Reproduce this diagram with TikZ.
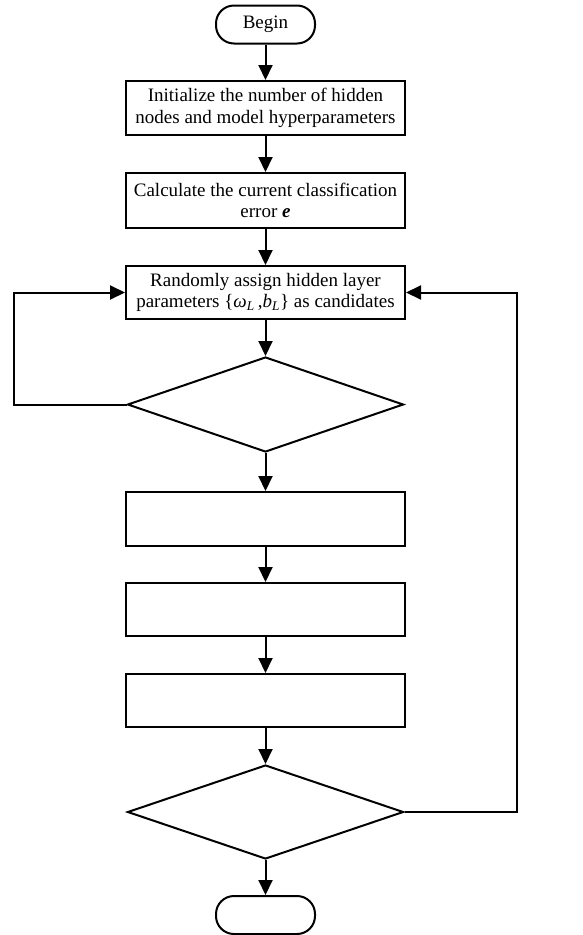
\documentclass[tikz,border=0pt]{standalone}
\usepackage{fontspec}
\setmainfont{Liberation Serif}
\usetikzlibrary{shapes.geometric,arrows.meta}
\begin{document}
\begin{tikzpicture}[x=1pt,y=-1pt,
  every node/.style={font=\fontsize{19}{21.5}\selectfont},
  procbox/.style={draw,line width=2pt,minimum width=279pt,align=center,inner sep=1pt},
  termbox/.style={draw,line width=2pt,rounded corners=18pt,minimum width=99pt,minimum height=38pt,inner sep=0pt},
  decide/.style={draw,line width=2pt,diamond,minimum width=276pt,minimum height=95pt,inner sep=0pt},
  arr/.style={line width=2pt,-{Triangle[length=15pt,width=14pt]}}]
\useasboundingbox (0,0) rectangle (583,935);
\node[termbox] (begin) at (265.5,24.5) {Begin};
\node[procbox,minimum height=54pt] (b1) at (265.5,108) {Initialize the number of hidden\\nodes and model hyperparameters};
\node[procbox,minimum height=55pt] (b2) at (265.5,200.5) {Calculate the current classification\\error \textbf{\textit{e}}};
\node[procbox,minimum height=53pt] (b3) at (265.5,292.5) {Randomly assign hidden layer\\parameters \{\textit{ω}\textsubscript{\textit{L}}\,,\textit{b}\textsubscript{\textit{L}}\} as candidates};
\node[decide] (d1) at (265.5,404.5) {};
\node[procbox,minimum height=54pt] (b4) at (265.5,519) {};
\node[procbox,minimum height=53pt] (b5) at (265.5,609.5) {};
\node[procbox,minimum height=53pt] (b6) at (265.5,700.5) {};
\node[decide,minimum height=94pt] (d2) at (265.5,812) {};
\node[termbox] (end) at (265.5,915) {};
\coordinate (L) at (14,404.5);
\coordinate (R) at (517,812);
\draw[arr] (begin) -- (b1);
\draw[arr] (b1) -- (b2);
\draw[arr] (b2) -- (b3);
\draw[arr] (b3) -- (d1);
\draw[arr] (d1) -- (b4);
\draw[arr] (b4) -- (b5);
\draw[arr] (b5) -- (b6);
\draw[arr] (b6) -- (d2);
\draw[arr] (d2) -- (end);
\draw[arr] (d1.west) -- (L) |- (b3.west);
\draw[arr] (d2.east) -- (R) |- (b3.east);
\end{tikzpicture}
\end{document}
